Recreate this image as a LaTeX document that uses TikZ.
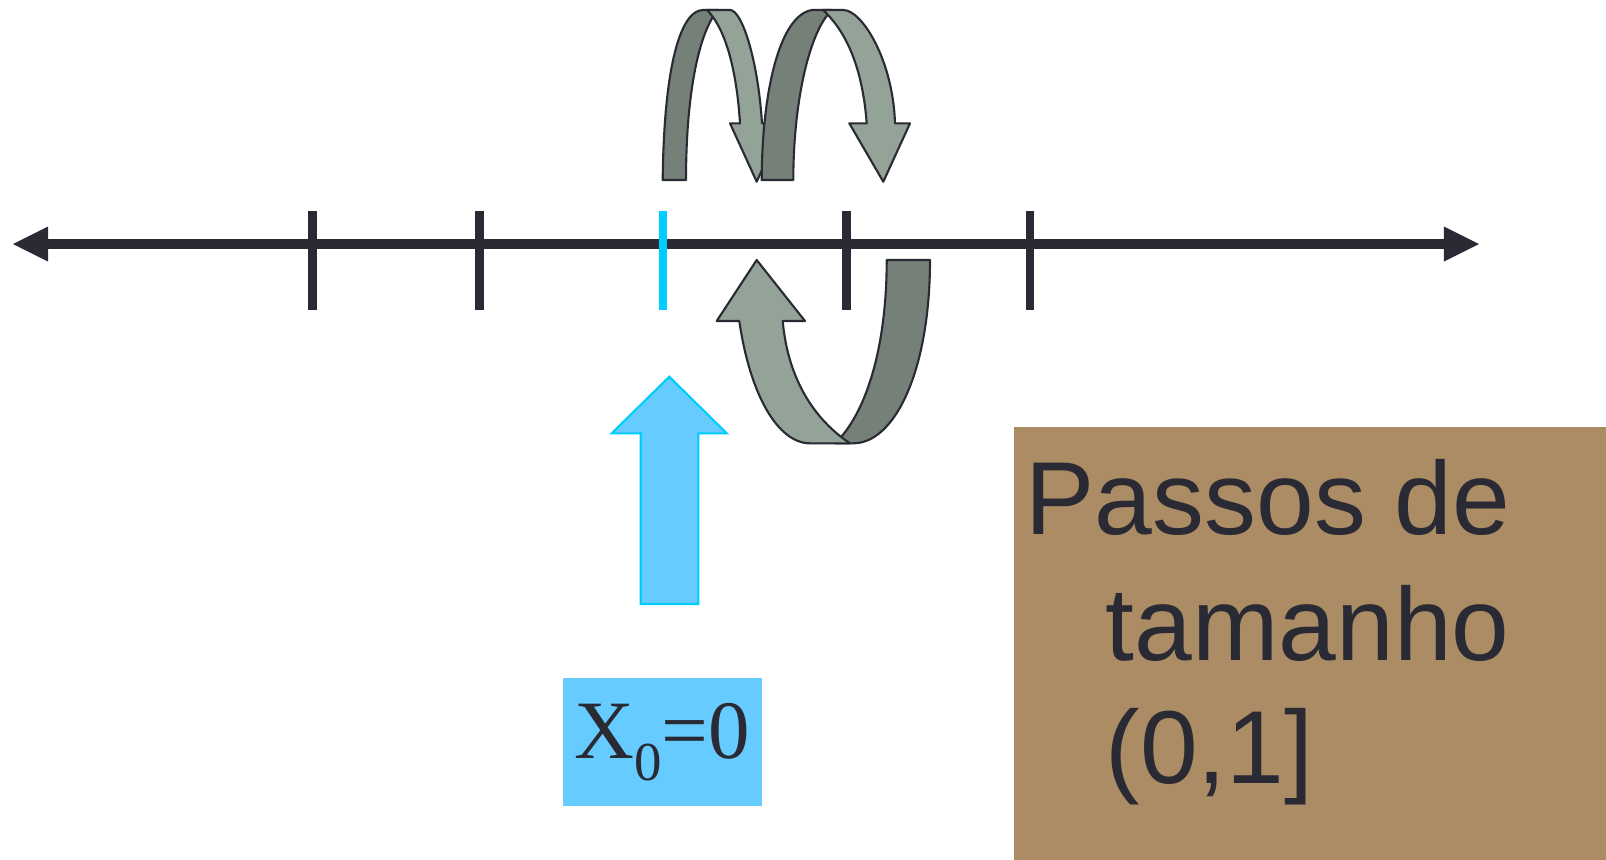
\documentclass[tikz,border=0pt]{standalone}
\usepackage{fontspec}
\setmainfont{Liberation Sans}
\newfontfamily\stepsfont{Liberation Sans}
\newfontfamily\xfont{Liberation Serif}
\usetikzlibrary{arrows.meta}
\definecolor{axisink}{RGB}{42,42,52}
\definecolor{zerocyan}{RGB}{0,204,255}
\definecolor{zeroblue}{RGB}{102,204,255}
\definecolor{stepbrown}{RGB}{171,140,101}
\definecolor{bandback}{RGB}{117,128,121}
\definecolor{bandfront}{RGB}{147,163,152}

\begin{document}
\begin{tikzpicture}[x=0.01cm,y=-0.01cm,
  axis/.style={axisink,line width=3.1pt,
    {Triangle[length=3.5mm,width=3.5mm,line width=0pt]}-{Triangle[length=3.5mm,width=3.5mm,line width=0pt]}},
  tick/.style={axisink,line width=2.4pt},
  back/.style={fill=bandback,draw=axisink,line width=0.6pt,line join=round},
  front/.style={fill=bandfront,draw=axisink,line width=0.6pt,line join=round},
  zeroarrow/.style={fill=zeroblue,draw=zerocyan,line width=0.6pt},
  zerobox/.style={fill=zeroblue,inner sep=0pt,text=axisink,font=\xfont\fontsize{23.6pt}{28pt}\selectfont},
  stepsbox/.style={fill=stepbrown,inner sep=0pt},
  stepstext/.style={inner sep=0pt,text=axisink,font=\stepsfont\fontsize{29.5pt}{35pt}\selectfont}
]
\useasboundingbox (0,0) rectangle (1606,859);

% number line
\coordinate (lend) at (13,244);
\coordinate (rend) at (1479,244);
\draw[axis] (lend) -- (rend);
\foreach \x in {312.5,479.5,846.7,1030}
  \draw[tick] (\x,210.5) -- (\x,309.5);
\draw[tick,zerocyan] (663,210.5) -- (663,309.5);

% first jump
\filldraw[back] (662.7,180) .. controls (664,60) and (682,10) .. (703,10) -- (718,10)
  .. controls (700,30) and (686,90) .. (686,180) -- cycle;
\filldraw[front] (707,10) -- (730,10) .. controls (742,10) and (758,60) .. (762,123.3)
  -- (783,123.3) -- (756.7,181.7) -- (730,123.3) -- (740,123.3)
  .. controls (737,75) and (727,30) .. (707,10) -- cycle;

% second jump
\filldraw[back] (761.7,180) .. controls (762,90) and (780,15) .. (812,10) -- (832,10)
  .. controls (810,30) and (793.3,100) .. (793.3,180) -- cycle;
\filldraw[front] (823,10) -- (843.3,10) .. controls (862,10) and (893,60) .. (895,123.3)
  -- (910,123.3) -- (883.3,181.7) -- (849.3,123.3) -- (866.7,123.3)
  .. controls (863,75) and (850,35) .. (823,10) -- cycle;

% jump back
\filldraw[back] (886.7,260) -- (930,260) .. controls (930,370) and (895,443.3) .. (853.3,443.3)
  -- (835,443.3) .. controls (865,415) and (886.7,350) .. (886.7,260) -- cycle;
\filldraw[front] (810,443.3) -- (850,443.3) .. controls (815,420) and (788,380) .. (782.7,321)
  -- (805,321) -- (756.7,260) -- (716.7,321) -- (739.3,321)
  .. controls (750,395) and (778,443.3) .. (810,443.3) -- cycle;

% start point
\filldraw[zeroarrow] (640.7,604) -- (640.7,433.3) -- (611.7,433.3) -- (669.3,376.7)
  -- (726.7,433.3) -- (698.3,433.3) -- (698.3,604) -- cycle;
\node[zerobox,minimum width=1.99cm,minimum height=1.274cm] (xzero) at (662.2,742)
  {X\raisebox{-6.1pt}{\fontsize{15.6pt}{16pt}\selectfont 0}=0};

% step size
\node[stepsbox,anchor=north west,minimum width=5.93cm,minimum height=4.33cm] (steps) at (1013,426) {};
\node[stepstext,anchor=base west] (stepsa) at (1025,534.3) {Passos de};
\node[stepstext,anchor=base west] (stepsb) at (1105,660) {tamanho};
\node[stepstext,anchor=base west] (stepsc) at (1105,783.3) {(0,1]};
\end{tikzpicture}
\end{document}
